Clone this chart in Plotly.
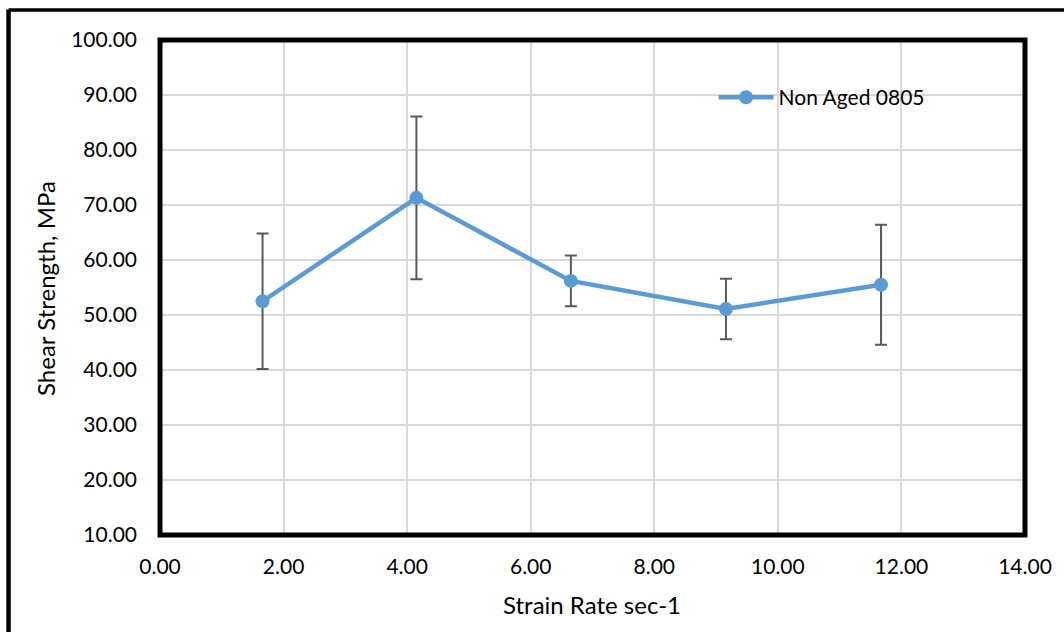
import plotly.graph_objects as go

# Shear strength vs. strain rate, non-aged 0805 joints
strain_rate = [1.66, 4.15, 6.65, 9.16, 11.67]
shear_strength = [52.5, 71.3, 56.2, 51.1, 55.5]
strength_err = [12.3, 14.8, 4.6, 5.5, 10.9]
series_name = "Non Aged 0805"

x_title = "Strain Rate sec-1"
y_title = "Shear Strength, MPa"

FONT = "Lato, 'Open Sans', sans-serif"
BLUE = "#5b9bd5"

fig = go.Figure()
fig.add_trace(go.Scatter(
    x=strain_rate,
    y=shear_strength,
    name=series_name,
    mode="lines+markers",
    line=dict(color=BLUE, width=4.5),
    marker=dict(color=BLUE, size=14),
    error_y=dict(type="data", array=strength_err, visible=True,
                 color="#595959", thickness=2, width=6),
))

axis_common = dict(
    showgrid=True, gridcolor="#d9d9d9", gridwidth=1.5,
    zeroline=False, showline=False, ticks="",
    tickformat=".2f",
    tickfont=dict(family=FONT, size=21, color="#000000"),
)

fig.update_xaxes(range=[0, 14], dtick=2, tick0=0, ticklabelstandoff=17, **axis_common)
fig.update_yaxes(range=[10, 100], dtick=10, tick0=10, ticklabelstandoff=22, **axis_common)

# white backing behind the legend, covering the gridlines there
fig.add_shape(type="rect", xref="paper", yref="paper", x0=0.586, x1=0.940,
              y0=0.838, y1=0.919, fillcolor="#ffffff", line=dict(width=0),
              layer="between")

# thick plot-area frame and the outer chart frame (left and top edges)
fig.add_shape(type="rect", xref="paper", yref="paper", x0=0, y0=0, x1=1, y1=1,
              line=dict(color="#000000", width=5), layer="above")
fig.add_shape(type="line", xref="paper", yref="paper", x0=-0.1751, x1=-0.1751,
              y0=-0.25, y1=1.0616, line=dict(color="#000000", width=4.5))
fig.add_shape(type="line", xref="paper", yref="paper", x0=-0.1751, x1=1.1,
              y0=1.0606, y1=1.0606, line=dict(color="#000000", width=3.5))

fig.add_annotation(text=x_title, xref="paper", yref="paper", x=0.499, y=-0.1414,
                   xanchor="center", yanchor="middle", showarrow=False,
                   font=dict(family=FONT, size=24, color="#000000"))
fig.add_annotation(text=y_title, xref="paper", yref="paper", x=-0.1318, y=0.499,
                   xanchor="center", yanchor="middle", showarrow=False, textangle=-90,
                   font=dict(family=FONT, size=24, color="#000000"))

fig.update_layout(
    width=1064, height=632,
    margin=dict(l=160, r=39, t=40, b=97),
    paper_bgcolor="#ffffff", plot_bgcolor="#ffffff",
    showlegend=True,
    legend=dict(x=0.64, y=0.925, xanchor="left", yanchor="top",
                bgcolor="rgba(255,255,255,0)", borderwidth=0, itemwidth=55,
                font=dict(family=FONT, size=21, color="#000000")),
)

fig.write_html("out.html")
